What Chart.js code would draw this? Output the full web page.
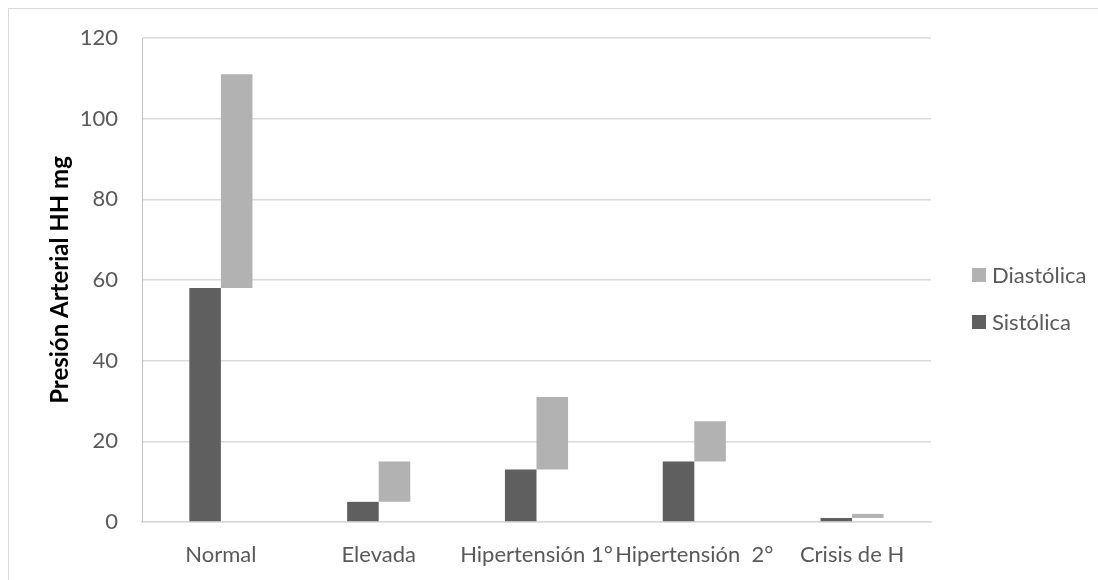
<!DOCTYPE html>
<html>
<head>
<meta charset="utf-8">
<script src="https://cdn.jsdelivr.net/npm/chart.js@4.4.1/dist/chart.umd.min.js"></script>
<style>
  html, body { margin: 0; padding: 0; background: #fff; }
  #wrap { position: relative; width: 1098px; height: 580px; overflow: hidden; }
  #frame { position: absolute; left: 8px; top: 8px; width: 1200px; height: 700px; border: 1.5px solid #d9d9d9; box-sizing: border-box; }
  canvas { position: absolute; left: 0; top: 0; }
</style>
</head>
<body>
<div id="wrap">
  <div id="frame"></div>
  <canvas id="c" width="1098" height="580"></canvas>
</div>
<script>
const categories = ['Normal', 'Elevada', 'Hipertensión 1°', 'Hipertensión  2°', 'Crisis de H'];
const sistolica = [58, 5, 13, 15, 1];
const diastolica = [111, 15, 31, 25, 2];
const yTicks = [0, 20, 40, 60, 80, 100, 120];

const TEXT = '#595959';
const FONT = 'Lato, "Open Sans", sans-serif';

// diastólica floats on top of the sistólica value
const diaRange = diastolica.map((d, i) => [sistolica[i], d]);

// legend drawn by hand so its place matches the reference
const sideLegend = {
  id: 'sideLegend',
  afterDraw(chart) {
    const ctx = chart.ctx;
    const items = [chart.data.datasets[1], chart.data.datasets[0]];
    const ys = [275, 322];
    ctx.save();
    ctx.font = '22px ' + FONT;
    ctx.textBaseline = 'middle';
    items.forEach((ds, i) => {
      ctx.fillStyle = ds.backgroundColor;
      ctx.fillRect(972, ys[i] - 7, 14, 14);
      ctx.fillStyle = TEXT;
      ctx.fillText(ds.label, 992, ys[i] + 1);
    });
    ctx.restore();
  }
};

new Chart(document.getElementById('c'), {
  type: 'bar',
  data: {
    labels: categories,
    datasets: [
      {
        label: 'Sistólica',
        data: sistolica,
        backgroundColor: '#5f5f5f',
        borderWidth: 0,
      },
      {
        label: 'Diastólica',
        data: diaRange,
        backgroundColor: '#b2b2b2',
        borderWidth: 0,
      }
    ]
  },
  options: {
    responsive: false,
    animation: false,
    devicePixelRatio: 1,
    categoryPercentage: 0.4,
    barPercentage: 1,
    layout: { padding: { top: 38, right: 167, bottom: 0, left: 0 } },
    plugins: {
      legend: { display: false },
      tooltip: { enabled: false }
    },
    scales: {
      x: {
        grid: { display: false, drawTicks: false },
        border: { display: true, color: '#d9d9d9', width: 1.5 },
        ticks: { color: TEXT, font: { family: FONT, size: 22 }, padding: 20, maxRotation: 0, autoSkip: false },
        afterFit(scale) { scale.height = 58; }
      },
      y: {
        min: 0,
        max: 120,
        afterBuildTicks(scale) { scale.ticks = yTicks.map(v => ({ value: v })); },
        grid: { color: '#d9d9d9', lineWidth: 1.5, drawTicks: false },
        border: { display: true, color: '#bfbfbf', width: 1 },
        ticks: { color: TEXT, font: { family: FONT, size: 22 }, padding: 24 },
        title: {
          display: true,
          text: 'Presión Arterial HH mg',
          color: '#000',
          font: { family: FONT, size: 24, weight: 'bold' },
          padding: { top: 46, bottom: 0 }
        },
        afterFit(scale) { scale.width = 142; }
      }
    }
  },
  plugins: [sideLegend]
});
</script>
</body>
</html>
